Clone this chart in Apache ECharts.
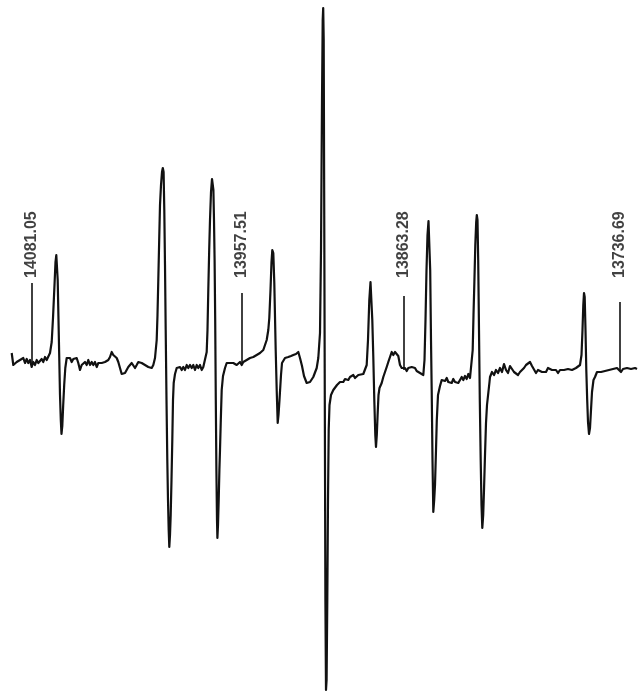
<!DOCTYPE html>
<html>
<head>
<meta charset="utf-8">
<script src="https://cdn.jsdelivr.net/npm/echarts@6/dist/echarts.min.js"></script>
<style>
  html, body { margin: 0; padding: 0; background: #fff; }
  #chart { width: 638px; height: 700px; }
</style>
</head>
<body>
<div id="chart"></div>
<script>
// Recorder trace: [sweep position, derivative signal (arbitrary units)]
const trace = [
  [11.7,7],[13.3,-5],[15,-7],[16.7,-2],[18.3,-3],[20,0],[21.7,-2],[23.3,2],[25,-3],[26.7,1],
  [28.3,-3],[30,0],[31.7,-7],[33.3,-2],[35,-5],[36.7,0],[38.3,-3],[40,-2],[41.7,1],[43.3,-2],
  [45,3],[46.7,0],[48.3,-2],[50,7],[51.7,18],[53,42],[54.5,75],[55.5,98],[56.3,105],[57,103],
  [57.7,80],[58.5,40],[59.3,0],[60,-35],[60.8,-60],[61.5,-74],[62.3,-66],[63.2,-45],[64.2,-25],[65.3,-8],
  [66.7,2],[68.3,0],[70,2],[71.7,-2],[73.3,1],[75,-1],[76.7,2],[78.3,-3],[80,-10],[81.7,-5],
  [83.3,-7],[85,-2],[86.7,-5],[88.3,0],[90,-5],[91.7,-2],[93.3,-5],[95,-2],[96.7,-7],[98.3,-3],
  [100,-5],[101.7,-3],[103.3,-5],[105,-2],[106.7,-3],[108.3,0],[110,3],[111.7,8],[113.3,5],[115,3],
  [116.7,2],[118.3,-2],[120,-8],[121.7,-14],[123.3,-15],[125,-13],[126.7,-15],[128.3,-7],[130,-9],[131.7,-3],
  [133.3,-5],[135,-8],[136.7,-5],[138.3,-2],[140,0],[141.7,-3],[143.3,-2],[145,-5],[146.7,-3],[148.3,-7],
  [150,-5],[151.7,-8],[153.3,-5],[155,2],[156.7,20],[157.5,45],[158.3,80],[159.2,120],[160,155],[161,175],
  [162,188],[162.8,192],[163.6,188],[164.3,150],[165,95],[165.7,30],[166.5,-40],[167.3,-100],[168,-140],[168.7,-170],
  [169.3,-187],[170,-175],[170.7,-155],[171.5,-120],[172.3,-80],[173,-40],[173.7,-23],[175,-14],[176.7,-8],[178.3,-10],
  [180,-7],[181.7,-10],[183.3,-7],[185,-10],[186.7,-5],[188.3,-8],[190,-5],[191.7,-8],[193.3,-5],[195,-10],
  [196.7,-5],[198.3,-8],[200,-5],[201.7,-10],[203.3,-7],[205,-5],[206.7,8],[207.5,30],[208.3,70],[209.2,110],
  [210,140],[211,168],[212,181],[212.7,183],[213.4,170],[214,140],[214.6,100],[215.2,40],[215.8,-40],[216.4,-110],
  [217,-160],[217.4,-178],[218,-165],[218.7,-140],[219.4,-110],[220,-90],[220.8,-60],[221.7,-30],[223,-16],[225,-8],
  [226.7,-3],[228.3,-2],[230,-3],[231.7,-2],[233.3,-3],[235,-2],[236.7,-5],[238.3,-3],[240,-2],[241.7,-5],
  [243.3,-2],[245,-3],[246.7,0],[248.3,2],[250,2],[253.3,3],[256.7,5],[258.3,3],[260,7],[261.7,8],
  [263.3,10],[265,15],[266.7,20],[268.3,30],[269.3,42],[270.5,70],[271.5,98],[272.3,110],[273.3,107],[274.3,77],
  [275.7,10],[276.7,-30],[277.7,-63],[278.5,-55],[279.5,-40],[281,-15],[282,-3],[285,2],[288.3,3],[291,4],
  [293.3,5],[296,6],[298.3,8],[300,2],[302,-6],[304,-16],[306.7,-23],[310,-22],[313.3,-17],[316.7,-8],
  [318.3,2],[320,27],[321,110],[322,260],[322.7,340],[323.2,352],[323.7,320],[324.2,160],[324.8,-40],[325.4,-240],
  [326,-330],[326.6,-320],[327.3,-240],[328,-140],[328.7,-70],[329.5,-45],[331,-35],[333.3,-30],[335,-28],[337,-25],
  [340,-22],[343.3,-22],[345,-19],[346.7,-18],[348.3,-20],[350,-17],[351.7,-16],[353.3,-15],[355,-18],[356.7,-18],
  [358.3,-15],[360,-17],[363.3,-14],[365,-12],[366.7,-5],[368,20],[369.3,60],[370.5,78],[371.3,77],[372.3,40],
  [373.3,3],[374.3,-40],[375.3,-75],[376,-87],[376.8,-75],[377.6,-55],[378.5,-35],[379.5,-28],[381.7,-23],[383.3,-17],
  [385,-12],[386.7,-7],[388.3,-2],[390,3],[391.7,8],[393.3,5],[395,8],[396.7,10],[398.3,4],[400,-5],
  [401.7,-8],[403.3,-10],[405,-8],[406.7,-11],[408.3,-8],[410,-10],[411.7,-7],[413.3,-9],[415,-8],[416.7,-11],
  [418.3,-10],[420,-13],[421.7,-14],[423.3,-15],[424.5,0],[425.5,40],[426.5,90],[427.5,125],[428.5,139],[429.3,138],
  [430.2,90],[431,20],[431.7,-30],[432.5,-100],[433.3,-152],[434.2,-140],[435,-125],[436,-90],[436.8,-60],[438,-35],
  [440,-26],[441.7,-20],[443.3,-18],[445,-21],[446.7,-18],[448.3,-22],[450,-20],[451.7,-23],[453.3,-19],[455,-22],
  [456.7,-20],[458.3,-23],[460,-21],[461.7,-17],[463.3,-20],[465,-16],[466.7,-19],[468.3,-14],[470,-18],[471.7,-17],
  [472.7,10],[473.5,45],[474.3,75],[475.3,115],[476.2,138],[476.8,145],[477.5,140],[478.2,100],[479,30],[479.8,-40],
  [480.7,-100],[481.5,-145],[482.3,-168],[483.2,-155],[484,-130],[485,-95],[486,-63],[487,-45],[488.3,-33],[489.5,-22],
  [490,-17],[492,-12],[494,-15],[496,-10],[498,-13],[500,-8],[502,-12],[504,-4],[506,-10],[508,-13],
  [510,-6],[512,-8],[514,-12],[516,-10],[518,-15],[520,-12],[522,-10],[524,-8],[526,-5],[528,-6],
  [530,-2],[532,-6],[534,-8],[536,-13],[538,-10],[540,-12],[542,-12],[544,-10],[546,-12],[548,-8],
  [550,-6],[552,-10],[554,-12],[556,-10],[558,-13],[560,-10],[562,-12],[564,-10],[566,-12],[568,-9],
  [570,-11],[572,-10],[574,-12],[576,-8],[578,-8],[580,-5],[581.5,5],[582.5,30],[583.3,55],[584,67],
  [584.7,63],[585.5,30],[586.3,-10],[587.2,-40],[588,-62],[589,-74],[590,-68],[591,-50],[592,-32],[593.5,-20],
  [595,-17],[597,-12],[599,-13],[601,-12],[603,-13],[605,-11],[607,-12],[609,-10],[611,-11],[613,-9],
  [615,-10],[617,-8],[619,-10],[621,-12],[623,-9],[625,-10],[627,-8],[629,-10],[631,-9],[633,-10],
  [635,-8],[637,-9]
];

// Field markers (gauss) and where they fall along the sweep
const markerField = ['14081.05', '13957.51', '13863.28', '13736.69'];
const markerSweep = [32, 242, 404, 620];
const markerTop = [77, 67, 64, 58];
const markerBottom = [-4, -3, -10, -11];

// Level at which the field labels start (signal units)
const LABEL_LEVEL = 82;

const chart = echarts.init(document.getElementById('chart'), null, { renderer: 'canvas' });

const markLines = markerSweep.map((s, i) => [
  { coord: [s, markerTop[i]] },
  { coord: [s, markerBottom[i]] }
]);

const labelPoints = markerSweep.map((s, i) => ({
  value: [s, LABEL_LEVEL],
  name: markerField[i]
}));

chart.setOption({
  animation: false,
  backgroundColor: '#ffffff',
  grid: { left: 0, right: 0, top: 0, bottom: 0 },
  xAxis: {
    type: 'value', min: 0, max: 638,
    show: false
  },
  yAxis: {
    type: 'value', min: -340, max: 360,
    show: false
  },
  series: [
    {
      type: 'line',
      data: trace,
      symbol: 'none',
      smooth: false,
      lineStyle: { color: '#111', width: 2.2, join: 'round' },
      markLine: {
        silent: true,
        symbol: ['none', 'none'],
        label: { show: false },
        lineStyle: { color: '#111', width: 1.6, type: 'solid' },
        emphasis: { disabled: true },
        data: markLines
      }
    },
    {
      type: 'scatter',
      data: labelPoints,
      symbolSize: 0,
      silent: true,
      label: {
        show: true,
        formatter: p => p.name,
        position: [0, 0],
        rotate: 90,
        align: 'left',
        verticalAlign: 'middle',
        color: '#111',
        fontFamily: 'Liberation Sans',
        fontWeight: 'bold',
        fontSize: 16
      }
    }
  ]
});
</script>
</body>
</html>
